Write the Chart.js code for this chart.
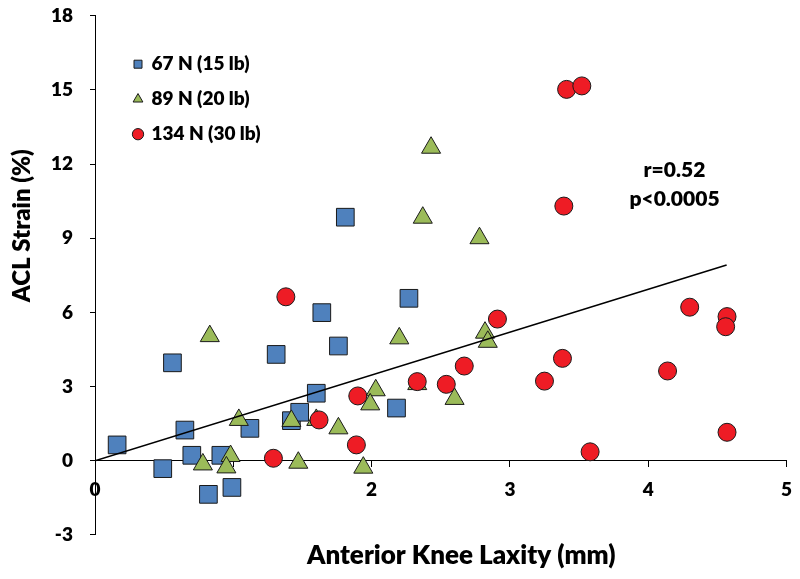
<!DOCTYPE html>
<html>
<head>
<meta charset="utf-8">
<script src="https://cdn.jsdelivr.net/npm/chart.js@4.4.1/dist/chart.umd.min.js"></script>
<style>
  html, body { margin: 0; padding: 0; background: #ffffff; }
  #wrap { width: 800px; height: 579px; }
</style>
</head>
<body>
<div id="wrap"><canvas id="c" width="800" height="579"></canvas></div>
<script>
// ---- Data ----
const seriesNames = ['67 N (15 lb)', '89 N (20 lb)', '134 N (30 lb)'];

const laxity67 = [0.16, 0.56, 0.49, 0.65, 0.70, 0.82, 0.91, 0.99, 1.12, 1.31, 1.42, 1.48, 1.60, 1.64, 1.76, 1.81, 2.27, 2.18];
const strain67 = [0.64, 3.96, -0.32, 1.24, 0.22, -1.36, 0.22, -1.08, 1.31, 4.30, 1.62, 1.96, 2.73, 5.99, 4.64, 9.85, 6.57, 2.13];

const laxity89 = [0.83, 0.78, 0.98, 0.95, 1.04, 1.42, 1.47, 1.60, 1.76, 2.43, 2.37, 2.78, 2.20, 2.82, 2.84, 2.03, 1.99, 2.60, 1.94, 2.33];
const strain89 = [5.04, -0.15, 0.19, -0.27, 1.65, 1.61, -0.08, 1.65, 1.31, 12.66, 9.83, 9.00, 4.95, 5.18, 4.81, 2.85, 2.28, 2.50, -0.28, 3.10];

const laxity134 = [1.38, 1.29, 1.62, 1.90, 1.89, 2.33, 2.54, 2.67, 2.91, 3.25, 3.38, 3.39, 3.41, 3.52, 4.30, 4.57, 4.56, 4.14, 4.57, 3.58];
const strain134 = [6.63, 0.10, 1.65, 2.62, 0.64, 3.20, 3.09, 3.83, 5.73, 3.22, 4.14, 10.30, 15.02, 15.16, 6.21, 5.83, 5.42, 3.63, 1.15, 0.36];

const trendX = [0, 4.567];
const trendY = [0, 7.92];

const xTicks = [0, 1, 2, 3, 4, 5];
const yTicks = [-3, 0, 3, 6, 9, 12, 15, 18];

const statsText = ['r=0.52', 'p<0.0005'];
const xTitle = 'Anterior Knee Laxity (mm)';
const yTitle = 'ACL Strain (%)';

// ---- helpers ----
const toPts = (xs, ys) => xs.map((x, i) => ({ x: x, y: ys[i] }));
const FONT = 'Lato, "Open Sans", sans-serif';
const W = '800';

// legend placement inside plot + axis titles + stats annotation
const customPlugin = {
  id: 'customDecor',
  afterLayout(chart) {
    const lg = chart.legend;
    const ca = chart.chartArea;
    if (lg) {
      lg.left = ca.left + 23;
      lg.top = ca.top + 23;
      lg.right = ca.right;
      lg.bottom = ca.bottom;
    }
  },
  afterDatasetsDraw(chart) {
    const ctx = chart.ctx;
    const ca = chart.chartArea;
    const xs = chart.scales.x, ys = chart.scales.y;
    ctx.save();
    ctx.fillStyle = '#000';
    ctx.textAlign = 'center';
    ctx.textBaseline = 'middle';
    // stats annotation
    ctx.font = W + ' 21px ' + FONT;
    const ax = xs.getPixelForValue(4.19);
    ctx.fillText(statsText[0], ax, ys.getPixelForValue(11.74));
    ctx.fillText(statsText[1], ax, ys.getPixelForValue(10.57));
    // x axis title
    ctx.font = W + ' 26px ' + FONT;
    ctx.fillText(xTitle, (ca.left + ca.right) / 2 + 20.5, ca.bottom + 21);
    // y axis title
    ctx.font = W + ' 24px ' + FONT;
    ctx.translate(22, ca.top + 210);
    ctx.rotate(-Math.PI / 2);
    ctx.fillText(yTitle, 0, 0);
    ctx.restore();
  }
};

const tickFont = { family: FONT, size: 19, weight: W };

new Chart(document.getElementById('c'), {
  type: 'scatter',
  data: {
    datasets: [
      {
        label: seriesNames[0],
        data: toPts(laxity67, strain67),
        pointStyle: 'rect',
        pointRadius: 12.5,
        pointHoverRadius: 12.5,
        backgroundColor: '#4F81BD',
        borderColor: '#1a1a1a',
        borderWidth: 1,
        order: 3
      },
      {
        label: seriesNames[1],
        data: toPts(laxity89, strain89),
        pointStyle: 'triangle',
        pointRadius: 11,
        pointHoverRadius: 11,
        backgroundColor: '#9BBB59',
        borderColor: '#1a1a1a',
        borderWidth: 1,
        order: 2
      },
      {
        label: seriesNames[2],
        data: toPts(laxity134, strain134),
        pointStyle: 'circle',
        pointRadius: 9,
        pointHoverRadius: 9,
        backgroundColor: '#EE1C25',
        borderColor: '#1a1a1a',
        borderWidth: 1,
        order: 1
      },
      {
        type: 'line',
        label: 'trend',
        data: toPts(trendX, trendY),
        showLine: true,
        borderColor: '#000',
        borderWidth: 1.6,
        pointRadius: 0,
        fill: false,
        order: 0
      }
    ]
  },
  options: {
    responsive: false,
    animation: false,
    devicePixelRatio: 1,
    layout: { padding: { left: 0, right: 11.7, top: 15.7, bottom: 44.1 } },
    scales: {
      x: {
        type: 'linear',
        position: { y: 0 },
        min: 0, max: 5,
        afterBuildTicks(scale) { scale.ticks = xTicks.map(v => ({ value: v })); },
        afterFit(scale) {
          scale.height = 0;
          scale.paddingLeft = 0; scale.paddingRight = 0;
          scale.paddingTop = 0; scale.paddingBottom = 0;
        },
        ticks: { font: tickFont, color: '#000', padding: 12 },
        grid: { display: true, drawOnChartArea: false, drawTicks: true, tickLength: 6, color: '#000', lineWidth: 1 },
        border: { display: true, color: '#000', width: 1 },
        title: { display: false }
      },
      y: {
        type: 'linear',
        position: 'left',
        min: -3, max: 18,
        afterBuildTicks(scale) { scale.ticks = yTicks.map(v => ({ value: v })); },
        afterFit(scale) {
          scale.width = 95;
          scale.paddingTop = 0; scale.paddingBottom = 0;
          scale.paddingLeft = 0; scale.paddingRight = 0;
        },
        ticks: { font: tickFont, color: '#000', padding: 17 },
        grid: { display: true, drawOnChartArea: false, drawTicks: true, tickLength: 5, color: '#000', lineWidth: 1 },
        border: { display: true, color: '#000', width: 1 },
        title: { display: false }
      }
    },
    plugins: {
      legend: {
        display: true,
        position: 'chartArea',
        fullSize: false,
        align: 'start',
        labels: {
          usePointStyle: true,
          boxWidth: 8,
          boxHeight: 8,
          padding: 16,
          color: '#000',
          font: { family: FONT, size: 19, weight: W },
          filter: (item) => item.datasetIndex < 3,
          sort: (a, b) => a.datasetIndex - b.datasetIndex
        }
      },
      tooltip: { enabled: false },
      title: { display: false }
    }
  },
  plugins: [customPlugin]
});
</script>
</body>
</html>
